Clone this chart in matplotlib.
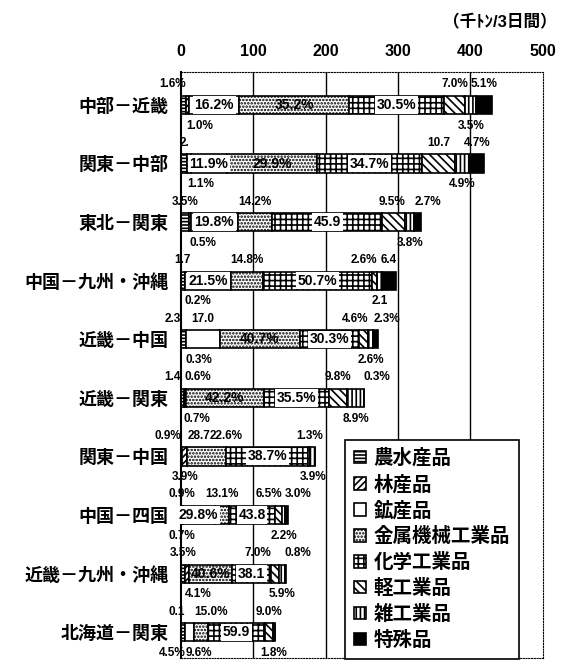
import numpy as np
import matplotlib.pyplot as plt

plt.rcParams['font.family'] = ['Liberation Sans', 'Noto Sans CJK JP']
plt.rcParams['hatch.linewidth'] = 1.2

routes = ['中部－近畿', '関東－中部', '東北－関東', '中国－九州・沖縄', '近畿－中国',
          '近畿－関東', '関東－中国', '中国－四国', '近畿－九州・沖縄', '北海道－関東']
goods = ['農水産品', '林産品', '鉱産品', '金属機械工業品', '化学工業品', '軽工業品', '雑工業品', '特殊品']
totals = [430, 419, 332, 297, 272, 255, 186, 148, 145, 130]   # 千トン/3日間
shares = [
    [1.6, 1.0, 16.2, 35.2, 30.5, 7.0, 3.5, 5.1],
    [2.1, 1.1, 11.9, 29.9, 34.7, 10.7, 4.9, 4.7],
    [3.5, 0.5, 19.8, 14.2, 45.9, 9.5, 3.8, 2.7],
    [1.7, 0.2, 21.5, 14.8, 50.7, 2.6, 2.1, 6.4],
    [2.3, 0.3, 17.0, 40.7, 30.3, 4.6, 2.6, 2.3],
    [1.4, 0.7, 0.6, 42.2, 35.5, 9.8, 8.9, 0.3],
    [0.9, 3.9, 0.0, 28.7, 61.3, 1.3, 3.9, 0.0],
    [0.9, 0.7, 29.8, 13.1, 43.8, 6.5, 2.2, 3.0],
    [3.5, 4.1, 0.0, 40.6, 38.1, 7.0, 5.9, 0.8],
    [4.5, 0.1, 9.6, 15.0, 59.9, 9.0, 1.8, 0.0],
]
# (goods index, text, where, anchor)
labels = [
    [(0, '1.6%', 'top', 'r'), (1, '1.0%', 'bottom', 'l'), (2, '16.2%', 'in', 'c'), (3, '35.2%', 'on', 'c'),
     (4, '30.5%', 'in', 'c'), (5, '7.0%', 'top', 'c'), (6, '3.5%', 'bottom', 'c'), (7, '5.1%', 'top', 'c')],
    [(0, '2.', 'top', 'c'), (1, '1.1%', 'bottom', 'l'), (2, '11.9%', 'in', 'c'), (3, '29.9%', 'on', 'c'),
     (4, '34.7%', 'in', 'c'), (5, '10.7', 'top', 'c'), (6, '4.9%', 'bottom', 'c'), (7, '4.7%', 'top', 'c')],
    [(0, '3.5%', 'top', 'c'), (1, '0.5%', 'bottom', 'l'), (2, '19.8%', 'in', 'c'), (3, '14.2%', 'top', 'c'),
     (4, '45.9', 'in', 'c'), (5, '9.5%', 'top', 'r'), (6, '3.8%', 'bottom', 'c'), (7, '2.7%', 'top', 'l')],
    [(0, '1.7', 'top', 'c'), (1, '0.2%', 'bottom', 'l'), (2, '21.5%', 'in', 'c'), (3, '14.8%', 'top', 'c'),
     (4, '50.7%', 'in', 'c'), (5, '2.6%', 'top', 'r'), (6, '2.1', 'bottom', 'c'), (7, '6.4', 'top', 'c')],
    [(0, '2.3', 'top', 'b'), (1, '0.3%', 'bottom', 'l'), (2, '17.0', 'top', 'c'), (3, '40.7%', 'on', 'c'),
     (4, '30.3%', 'in', 'c'), (5, '4.6%', 'top', 'r'), (6, '2.6%', 'bottom', 'c'), (7, '2.3%', 'top', 'l')],
    [(0, '1.4', 'top', 'b'), (1, '0.7%', 'bottom', 'l'), (2, '0.6%', 'top', 'l'), (3, '42.2%', 'on', 'c'),
     (4, '35.5%', 'in', 'c'), (5, '9.8%', 'top', 'c'), (6, '8.9%', 'bottom', 'c'), (7, '0.3%', 'top', 'l')],
    [(0, '0.9%', 'top', 'b'), (1, '3.9%', 'bottom', 'c'), (3, '28.7', 'top', 'l'), (4, '22.6%', 'top', 's'),
     (4, '38.7%', 'in', 'c'), (5, '1.3%', 'top', 'c'), (6, '3.9%', 'bottom', 'c')],
    [(0, '0.9%', 'top', 'c'), (1, '0.7%', 'bottom', 'c'), (2, '29.8%', 'in', 'c'), (3, '13.1%', 'top', 'c'),
     (4, '43.8', 'in', 'c'), (5, '6.5%', 'top', 'r'), (6, '2.2%', 'bottom', 'c'), (7, '3.0%', 'top', 'l')],
    [(0, '3.5%', 'top', 'c'), (1, '4.1%', 'bottom', 'l'), (3, '40.6%', 'on', 'c'), (4, '38.1', 'in', 'c'),
     (5, '7.0%', 'top', 'b'), (6, '5.9%', 'bottom', 'c'), (7, '0.8%', 'top', 'l')],
    [(0, '4.5%', 'bottom', 'r'), (1, '0.1', 'top', 'b'), (3, '15.0%', 'top', 'l'), (2, '9.6%', 'bottom', 'l'),
     (4, '59.9', 'in', 'c'), (5, '9.0%', 'top', 'c'), (6, '1.8%', 'bottom', 'c')],
]
ticks = [0, 100, 200, 300, 400, 500]

faces = ['white', 'white', 'white', 'white', 'white', 'white', 'white', 'black']
hatches = ['-----', '/////', None, '.....', '+++', '\\\\\\\\', '||||', None]

widths = np.array(shares) / 100 * np.array(totals)[:, None]
lefts = np.cumsum(widths, axis=1) - widths
y = np.arange(len(routes))
bh = 0.31

fig = plt.figure(figsize=(5.61, 6.61), dpi=100)
ax = fig.add_axes([181 / 561, 1 - 658 / 661, 361.5 / 561, 586 / 661])

for j, g in enumerate(goods):
    ax.barh(y, widths[:, j], left=lefts[:, j], height=bh, color=faces[j], hatch=hatches[j],
            edgecolor='black', linewidth=1.2, label=g, zorder=2)

# anchors: c=centre, l=left at start, r=right at end, s=centred on start, b=right at start
for i, row in enumerate(labels):
    for cat, txt, where, anc in row:
        x0, w = lefts[i, cat], widths[i, cat]
        x = {'c': x0 + w / 2, 'l': x0, 'r': x0 + w, 's': x0, 'b': x0}[anc]
        ha = {'c': 'center', 'l': 'left', 'r': 'right', 's': 'center', 'b': 'right'}[anc]
        if where == 'top':
            ax.text(x, i - 0.25, txt, ha=ha, va='bottom', fontsize=8.5, fontweight='bold', zorder=4)
        elif where == 'bottom':
            ax.text(x, i + 0.25, txt, ha=ha, va='top', fontsize=8.5, fontweight='bold', zorder=4)
        elif where == 'in':
            ax.text(x, i, txt, ha=ha, va='center', fontsize=10, fontweight='bold', zorder=4,
                    bbox=dict(boxstyle='square,pad=0.12', fc='white', ec='none'))
        else:
            ax.text(x, i, txt, ha=ha, va='center', fontsize=10, fontweight='bold', zorder=4)

for t in ticks[1:-1]:
    ax.axvline(t, color='black', linewidth=1.0, zorder=1)

ax.set_xlim(ticks[0], ticks[-1])
ax.set_ylim(9.44, -0.563)
ax.xaxis.tick_top()
ax.set_xticks(ticks)
ax.set_xticklabels([str(t) for t in ticks], fontsize=11.5, fontweight='bold')
ax.set_yticks(y)
ax.set_yticklabels(routes, fontsize=13, fontweight='bold')
ax.tick_params(axis='x', length=0, pad=9)
ax.tick_params(axis='y', length=0, pad=9)

ax.spines['left'].set_linewidth(1.5)
for s in ['top', 'right', 'bottom']:
    ax.spines[s].set_linestyle((0, (1, 1.5)))
    ax.spines[s].set_linewidth(0.8)

leg = ax.legend(loc='upper left', bbox_to_anchor=(0.454, 0.372), borderaxespad=0,
                prop={'size': 14, 'weight': 'bold'}, handlelength=0.6, handleheight=0.6,
                handletextpad=0.4, labelspacing=0.35, borderpad=0.45, fancybox=False,
                framealpha=1, edgecolor='black')
leg.get_frame().set_linewidth(1.2)
leg.set_zorder(5)

fig.text(557 / 561, 1 - 22 / 661, '（千ﾄﾝ/3日間）', ha='right', va='center', fontsize=12, fontweight='bold')

fig.savefig('out.png', dpi=100)
